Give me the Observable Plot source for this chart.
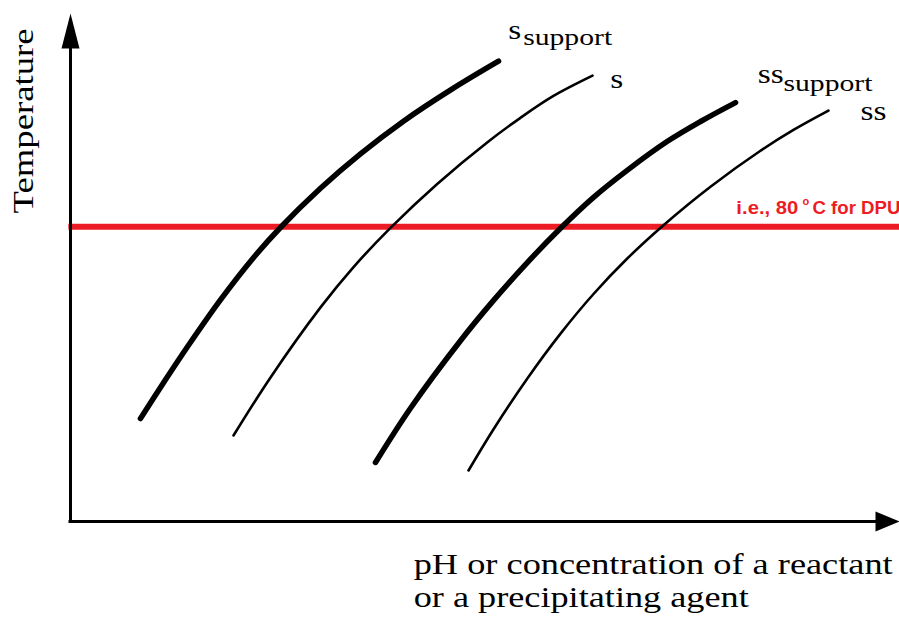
<!DOCTYPE html>
<html><head><meta charset="utf-8">
<script src="https://cdn.jsdelivr.net/npm/d3@7"></script>
<script src="https://cdn.jsdelivr.net/npm/@observablehq/plot@0.6"></script>
<style>body{margin:0;background:#fff;}</style>
</head><body><div id="chart"></div>
<script>
// Curves: [x (pH / concentration, arbitrary units 0-100), y (temperature, arbitrary units 0-100)]
const sSupport = [[8.44,20.16],[11.22,27.14],[14.11,34.19],[18.09,43.37],[22.07,51.62],[25.33,57.53],[30.16,65.21],[34.98,71.94],[40.17,78.34],[46.20,84.80],[51.63,90.08]];
const s = [[19.66,16.83],[24.13,28.20],[30.16,41.90],[34.14,49.79],[38.60,57.46],[44.27,66.11],[50.30,74.23],[54.28,79.00],[58.26,83.27],[62.97,87.24]];
const ssSupport = [[36.79,11.55],[41.01,22.17],[47.04,35.38],[51.03,43.27],[55.13,50.72],[59.11,57.38],[63.09,63.44],[67.19,68.77],[72.01,74.40],[76.00,78.28],[80.22,81.98]];
const ss = [[48.01,9.98],[51.03,18.06],[55.13,28.04],[59.11,36.77],[63.09,44.52],[67.19,51.51],[71.53,57.98],[77.20,65.52],[83.23,72.56],[87.21,76.63],[91.43,80.41]];
const dpuTemperature = [57.7];

// Curve name labels (main letters and subscripts)
const baseNames = ["s", "s", "ss", "ss"];
const baseX = [52.8, 65.1, 82.9, 95.3];
const baseY = [94.5, 84.9, 85.9, 78.5];
const subNames = ["support", "support"];
const subX = [54.6, 86.0];
const subY = [93.2, 84.3];

// Annotation for the red line
const noteParts = ["i.e., 80", "o", "C for DPU"];
const noteX = [87.8, 88.3, 89.5];
const noteY = [61.25, 62.6, 61.25];

// Axis titles
const yTitle = ["Temperature"];
const xTitleLines = ["pH or concentration of a reactant", "or a precipitating agent"];
const xTitleY = [-10.2, -16.8];

// Axis extents
const xAxisEnd = [{x: 100, y: 0}];
const yAxisEnd = [{x: 0, y: 99.4}];

// ---- styling ----
const serif = "Liberation Serif, Times New Roman, serif";
const red = "#ED1C24";
const textLengths = {"Temperature": 185, "pH or concentration of a reactant": 479, "or a precipitating agent": 335, "support": 89, "s": 13, "ss": 26, "i.e., 80": 62, "C for DPU": 88};
const upHead = {draw(ctx) { ctx.moveTo(0, 0); ctx.lineTo(9, 35); ctx.lineTo(-9, 35); ctx.closePath(); }};
const rightHead = {draw(ctx) { ctx.moveTo(0, 0); ctx.lineTo(-24, 10); ctx.lineTo(-24, -10); ctx.closePath(); }};

const lineOpts = (w) => ({x: d => d[0], y: d => d[1], curve: "catmull-rom", stroke: "black", strokeWidth: w, strokeLinecap: "round"});

const chart = Plot.plot({
  width: 899, height: 620,
  marginLeft: 70, marginRight: 0, marginTop: 10, marginBottom: 99,
  x: {domain: [0, 100], axis: null},
  y: {domain: [0, 100], axis: null},
  style: {background: "white"},
  marks: [
    Plot.ruleY(dpuTemperature, {x1: -0.2, x2: 100, stroke: red, strokeWidth: 6}),
    Plot.line(sSupport, lineOpts(5.5)),
    Plot.line(s, lineOpts(2.6)),
    Plot.line(ssSupport, lineOpts(5.5)),
    Plot.line(ss, lineOpts(2.6)),
    Plot.ruleY([0], {x1: 0, x2: 98, stroke: "black", strokeWidth: 3, strokeLinecap: "square"}),
    Plot.ruleX([0], {y1: 0, y2: 94, stroke: "black", strokeWidth: 3, strokeLinecap: "square"}),
    Plot.dot(yAxisEnd, {x: "x", y: "y", symbol: upHead, fill: "black", stroke: "none"}),
    Plot.dot(xAxisEnd, {x: "x", y: "y", symbol: rightHead, fill: "black", stroke: "none"}),
    Plot.text(baseNames, {x: (d, i) => baseX[i], y: (d, i) => baseY[i], text: d => d, textAnchor: "start", lineAnchor: "bottom", fontSize: 27, fontFamily: serif, fill: "black"}),
    Plot.text(subNames, {x: (d, i) => subX[i], y: (d, i) => subY[i], text: d => d, textAnchor: "start", lineAnchor: "bottom", fontSize: 23, fontFamily: serif, fill: "black"}),
    Plot.text(noteParts, {x: (d, i) => noteX[i], y: (d, i) => noteY[i], text: d => d}),
    Plot.text(yTitle, {x: -4.5, y: 78.4, text: d => d, rotate: -90, textAnchor: "middle", lineAnchor: "bottom", fontSize: 30, fontFamily: serif, fill: "black"}),
    Plot.text(xTitleLines, {x: 41.4, y: (d, i) => xTitleY[i], text: d => d, textAnchor: "start", lineAnchor: "bottom", fontSize: 30, fontFamily: serif, fill: "black"})
  ]
});

// style the texts (stretched serif lettering, red bold annotation)
const root = d3.select(chart);
root.selectAll("text").each(function() {
  const t = this.textContent;
  if (textLengths[t]) {
    this.setAttribute("textLength", textLengths[t]);
    this.setAttribute("lengthAdjust", "spacingAndGlyphs");
  }
  if (noteParts.includes(t)) {
    this.setAttribute("fill", red);
    this.setAttribute("font-weight", "bold");
    this.setAttribute("font-family", "Liberation Sans, Arial, sans-serif");
    this.setAttribute("font-size", t === "o" ? 11 : 18);
    this.setAttribute("text-anchor", t === "i.e., 80" ? "end" : "start");
    this.setAttribute("dy", "0");
  }
});
document.getElementById("chart").appendChild(chart);
</script>
</body></html>
